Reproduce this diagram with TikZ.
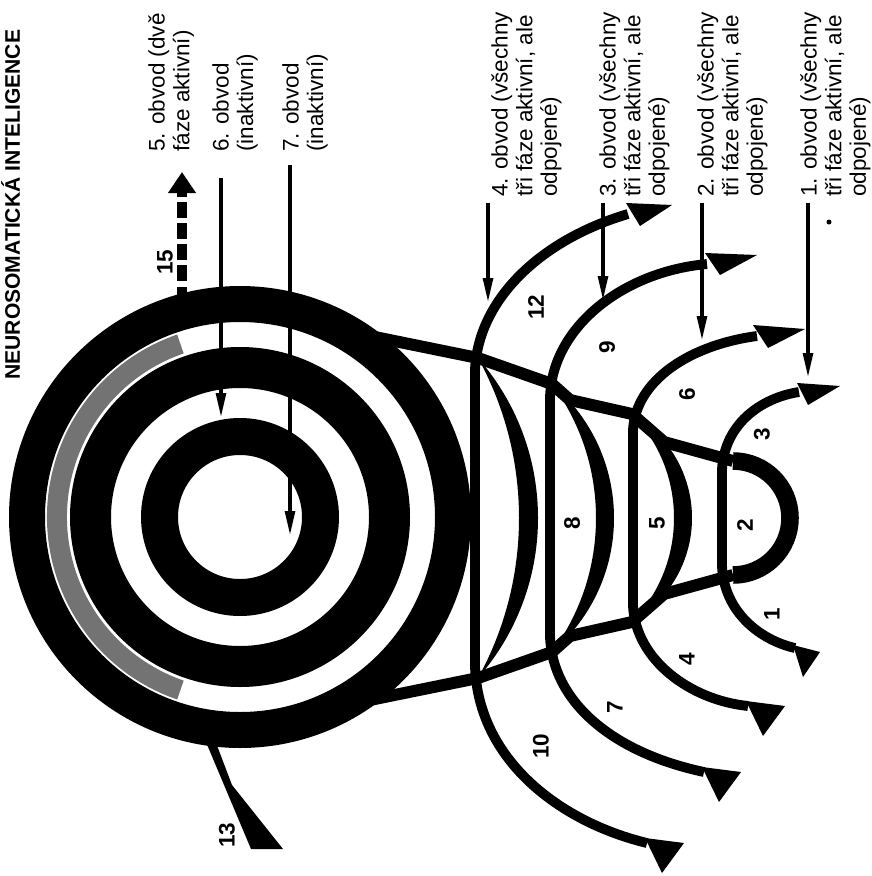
\documentclass[tikz,border=0pt]{standalone}
\usepackage{fontspec}
\setmainfont{Liberation Sans}
\usetikzlibrary{arrows.meta,positioning,calc}

\begin{document}
\begin{tikzpicture}[x=0.025cm, y=-0.025cm,
    lbl/.style={rotate=90, anchor=north west, inner sep=0pt, align=left,
                font=\fontsize{16}{17.5}\selectfont},
    num/.style={rotate=90, inner sep=0pt, font=\fontsize{16}{16}\selectfont\bfseries},
    ptr/.style={line width=2.2pt, -{Triangle[length=17pt,width=7pt]}},
    outl/.style={line width=8.5pt, line join=round},
    wire/.style={line width=7pt}
]
\useasboundingbox (0,0) rectangle (871,876);

% rings
\coordinate (ctr) at (240,517);
\fill[black!55] ($(ctr)+(109:193)$) arc[start angle=109, end angle=251, radius=193]
   -- ($(ctr)+(251:173)$) arc[start angle=251, end angle=109, radius=173] -- cycle;
\fill[even odd rule] (ctr) circle[radius=231] (ctr) circle[radius=195]
   (ctr) circle[radius=170] (ctr) circle[radius=129]
   (ctr) circle[radius=99] (ctr) circle[radius=62];

% domes
\draw[outl] (365,335) -- (478,358) -- (552,384) -- (570,400) -- (632,414)
   -- (664,442) -- (733,461);
\draw[outl] (365,701) -- (478,678) -- (552,652) -- (570,636) -- (632,622)
   -- (664,594) -- (733,575);
\draw[line width=12.5pt] (733,461) arc[start angle=270, end angle=450, radius=57];
\begin{scope}
  \clip (478,0) rectangle (900,900);
  \fill[even odd rule] (294.7,518) circle[radius=243.3] (186.3,518) circle[radius=332.7];
\end{scope}
\begin{scope}
  \clip (552,0) rectangle (900,900);
  \fill[even odd rule] (438.2,518) circle[radius=175.8] (370,518) circle[radius=226];
\end{scope}
\begin{scope}
  \clip (632,0) rectangle (900,900);
  \fill[even odd rule] (571.9,518) circle[radius=120.1] (524.2,518) circle[radius=149.8];
\end{scope}

% circuits
\draw[wire] (628,214) .. controls (540,240) and (478,300) .. (475,370) -- (475,666)
   .. controls (478,760) and (560,822) .. (647,843);
\draw[wire] (707,264) .. controls (620,272) and (550,330) .. (550,400) -- (550,636)
   .. controls (552,700) and (610,752) .. (704,772);
\draw[wire] (757,336) .. controls (690,345) and (636,380) .. (633,430) -- (633,606)
   .. controls (636,660) and (690,700) .. (748,706);
\draw[wire] (799,392) .. controls (760,398) and (724,425) .. (722,470) -- (722,566)
   .. controls (724,612) and (760,640) .. (795,648);
\fill (626,203) -- (672,205) -- (640,226) -- cycle;
\fill (705,253) -- (757,255) -- (720,275) -- cycle;
\fill (753,325) -- (805,329) -- (768,348) -- cycle;
\fill (797,383) -- (840,386) -- (808,405) -- cycle;
\fill (645,838) -- (684,843) -- (662,873) -- cycle;
\fill (702,767) -- (741,772) -- (719,802) -- cycle;
\fill (746,701) -- (785,706) -- (763,736) -- cycle;
\fill (793,645) -- (820,652) -- (803,677) -- cycle;
\fill (203,735) -- (213,735) -- (232,785) -- (283,849) -- (251,849) -- cycle;
\fill (829,222) circle[radius=2.5];

% numbers
\node[num] (n1) at (772,614) {1};
\node[num] (n2) at (745,525) {2};
\node[num] (n3) at (762,434) {3};
\node[num] (n4) at (687,659) {4};
\node[num] (n5) at (657,523) {5};
\node[num] (n6) at (687,394) {6};
\node[num] (n7) at (615,707) {7};
\node[num] (n8) at (572,523) {8};
\node[num] (n9) at (607,347) {9};
\node[num] (n10) at (541,746) {10};
\node[num] (n12) at (536,307) {12};
\node[num] (n13) at (227,835) {13};
\node[num] (n15) at (165,262) {15};

% labels
\node[lbl, font=\fontsize{15}{15}\selectfont\bfseries] (ttl) at (1,380) {NEUROSOMATICKÁ INTELIGENCE};
\node[lbl] (c5) at (148,152) {5. obvod (dvě\\fáze aktivní)};
\node[lbl] (c6) at (212,152) {6. obvod\\(inaktivní)};
\node[lbl] (c7) at (282,152) {7. obvod\\(inaktivní)};
\node[lbl] (c4) at (491,197) {4. obvod (všechny\\tři fáze aktivní, ale\\odpojené)};
\node[lbl] (c3) at (599,197) {3. obvod (všechny\\tři fáze aktivní, ale\\odpojené)};
\node[lbl] (c2) at (697,197) {2. obvod (všechny\\tři fáze aktivní, ale\\odpojené)};
\node[lbl] (c1) at (800,197) {1. obvod (všechny\\tři fáze aktivní, ale\\odpojené)};

% pointers
\coordinate (h15) at (182,172);
\coordinate (h7) at (290,535);
\coordinate (h6) at (221,417);
\coordinate (h4) at (488,302);
\coordinate (h3) at (603,300);
\coordinate (h2) at (702,340);
\coordinate (h1) at (808,377);
\draw[line width=7pt, dash pattern=on 11pt off 4pt, -{Triangle[length=15pt,width=19pt]}]
   ($(h15 |- c5.north west)+(0,150)$) -- (h15);
\draw[ptr] ($(h7 |- c7.north west)+(0,13)$) -- (h7);
\draw[ptr] ($(h6 |- c6.north west)+(0,26)$) -- (h6);
\draw[ptr] ($(h4 |- c4.north west)+(0,6)$) -- (h4);
\draw[ptr] ($(h3 |- c3.north west)+(0,6)$) -- (h3);
\draw[ptr] ($(h2 |- c2.north west)+(0,6)$) -- (h2);
\draw[ptr] ($(h1 |- c1.north west)+(0,6)$) -- (h1);
\end{tikzpicture}
\end{document}
